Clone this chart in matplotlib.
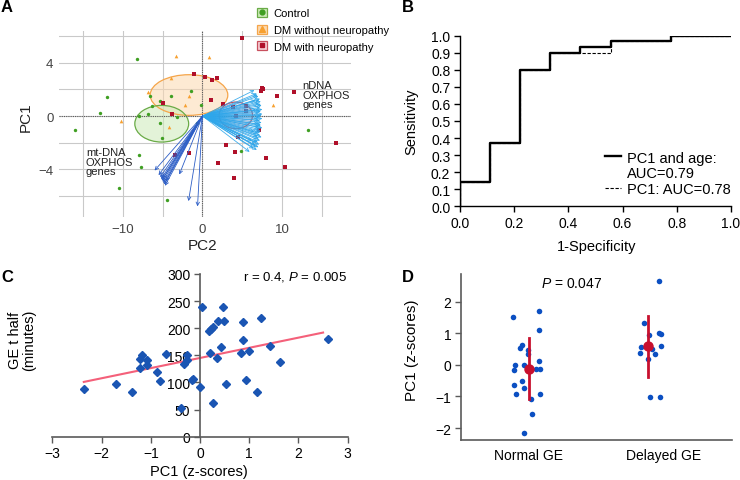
import numpy as np
import matplotlib.pyplot as plt
from matplotlib.patches import Ellipse, Patch
from matplotlib.lines import Line2D

plt.rcParams['font.family'] = ['Liberation Sans', 'DejaVu Sans']
plt.rcParams['mathtext.fontset'] = 'custom'
plt.rcParams['mathtext.rm'] = 'Liberation Sans'
plt.rcParams['mathtext.it'] = 'Liberation Sans:italic'

W, H = 740, 481

# ---- panel A data (PCA biplot) ----
ctrl_x = [-8.22, -11.98, -12.8, -15.98, -6.53, -6.36, -5.29, -3.93, -1.49, -0.16, -7.97,
          -6.78, -5.29, -3.22, -5.08, -0.66, -7.89, -7.72, -10.4, -4.46, 4.8, 13.2]
ctrl_y = [4.31, 1.40, 0.23, -1.05, 1.48, 0.73, 1.13, 1.48, 1.88, 0.83, 0.03,
          0.18, -0.55, -0.05, -1.68, -0.5, -2.93, -3.81, -5.39, -6.29, -2.63, -1.03]
dm_no_x = [-3.3, -6.78, -3.88, -1.73, -2.23, -10.25, -4.13, 0.87, 8.8]
dm_no_y = [4.49, 1.80, 2.83, 1.48, 0.83, -0.40, -0.83, 4.41, 0.83]
dm_neu_x = [-1.12, -5.0, -3.76, -1.69, -3.39, 4.92, 0.37, 1.2, 1.82, 1.12, 2.56, 7.4, 7.6, 7.31,
            9.29, 11.4, 3.8, 5.5, 4.2, 5.4, 7.1, 4.5, 2.93, 4.09, 1.94, 7.93, 10.29, 3.92, 16.65]
dm_neu_y = [3.16, 0.98, 0.13, -2.78, -2.91, 5.84, 2.91, 2.71, 2.83, 1.18, 0.9, 2.13, 2.0, 1.88,
            1.53, 1.78, 0.7, 0.75, 0.0, 0.4, -1.05, -1.55, -2.2, -2.73, -3.51, -3.16, -3.83, -4.69, -2.03]

# ellipses: centre x, centre y, radius x, radius y
ell_ctrl = [-5.1, -0.58, 3.37, 1.38]
ell_no = [-1.69, 1.58, 4.86, 1.53]
ell_neu = [4.17, 0.05, 2.1, 1.0]

# loading arrow tips
ndna_x = [6.5, 6.8, 7.0, 7.2, 7.3, 7.0, 7.4, 7.2, 7.5, 7.3, 7.0, 7.5, 7.3, 7.1, 7.5, 7.2, 7.4, 7.0, 7.3,
          7.5, 7.1, 7.3, 6.9, 7.2, 7.4, 7.0, 7.2, 6.8, 7.1, 6.6, 7.0, 6.4, 6.8, 5.9, 6.2, 6.5, 6.7, 6.6,
          6.9, 7.1, 7.3, 7.2, 7.4, 7.0, 7.3, 7.1, 6.9, 7.2, 6.7, 6.9]
ndna_y = [1.95, 1.7, 1.5, 1.3, 1.1, 0.95, 0.8, 0.65, 0.5, 0.35, 0.25, 0.15, 0.0, -0.1, -0.2, -0.35, -0.5,
          -0.6, -0.75, -0.9, -1.0, -1.15, -1.3, -1.45, -1.6, -1.7, -1.85, -2.0, -2.15, -2.2, -2.35, -2.45,
          -2.55, -2.7, -1.9, -1.2, 0.5, 1.2, 1.6, 1.2, 0.9, 0.45, 0.05, -0.3, -0.65, -0.85, -1.55,
          -1.25, -2.3, -1.95]
mt_x = [-6.0, -5.5, -5.3, -5.2, -5.1, -5.0, -4.9, -4.8, -4.7, -4.95, -4.6, -2.9, -1.75, -0.62]
mt_y = [-4.1, -4.45, -4.6, -4.75, -4.85, -4.95, -5.05, -5.15, -5.25, -4.7, -4.9, -4.4, -6.4, -6.8]

# ---- panel B data (ROC) ----
fpr = [0, 0, 0.111, 0.222, 0.333, 0.444, 0.556, 0.778, 1.0]
tpr_age = [0, 0.14, 0.37, 0.80, 0.90, 0.935, 0.97, 1.0, 1.0]
tpr_pc1 = [0, 0.14, 0.37, 0.80, 0.90, 0.90, 0.97, 1.0, 1.0]

# ---- panel C data ----
pc1_z = [-2.36, -1.71, -1.39, -1.22, -1.18, -1.21, -1.08, -1.07, -0.87, -0.81, -0.69, -0.38, -0.26,
         -0.26, -0.32, -0.14, -0.16, 0.0, 0.05, 0.19, 0.22, 0.26, 0.2, 0.27, 0.35, 0.37, 0.43, 0.47,
         0.49, 0.52, 0.83, 0.88, 0.88, 0.93, 0.99, 1.15, 1.23, 1.42, 1.62, 2.59]
ge_half = [88, 98, 82, 126, 151, 143, 141, 133, 120, 103, 152, 53, 151, 142, 134, 106, 104, 92, 240,
           195, 198, 203, 155, 63, 145, 214, 165, 240, 213, 97, 155, 179, 211, 105, 158, 82, 219, 168,
           137, 181]
fit_x = [-2.36, 2.5]
fit_y = [101, 192]

# ---- panel D data ----
groups = ['Normal GE', 'Delayed GE']
normal_pc1 = [1.52, 1.71, 1.10, 0.55, 0.63, 0.46, 0.34, 0.13, 0.0, 0.0, -0.17, -0.13, -0.13, -0.65,
              -0.52, -0.73, -0.92, -0.92, -1.07, -1.54, -2.16]
normal_jit = [-0.116, 0.076, 0.076, -0.062, -0.05, -0.007, -0.002, 0.076, -0.10, -0.034, -0.108,
              0.052, 0.081, -0.108, -0.05, -0.034, -0.096, 0.084, 0.017, 0.022, -0.034]
delayed_pc1 = [2.65, 1.33, 0.95, 1.01, 0.98, 0.58, 0.61, 0.51, 0.37, 0.34, 0.19, -1.01, -1.01]
delayed_jit = [-0.04, -0.15, -0.11, -0.04, -0.02, -0.17, -0.02, -0.09, -0.18, -0.07, -0.12, -0.10, -0.03]
grp_mean = [-0.13, 0.59]
grp_lo = [-1.07, -0.37]
grp_hi = [0.84, 1.54]
grp_mean_jit = [0.0, -0.12]

fig = plt.figure(figsize=(W / 100, H / 100), dpi=100)

def fx(px):
    return px / W

def fy(py):
    return 1 - py / H

# ================= A =================
axA = fig.add_axes([fx(59), fy(218), (351 - 59) / W, (218 - 32) / H])
axA.set_xlim(-17.96, 18.59)
axA.set_ylim(-7.6, 6.4)
for s in axA.spines.values():
    s.set_visible(False)
axA.set_xticks([-10, 0, 10])
axA.set_yticks([-4, 0, 4])
axA.set_xticks([-15, -5, 5, 15], minor=True)
axA.set_yticks([-6, -2, 2, 6], minor=True)
axA.grid(which='both', color='#c9c9c9', lw=0.8)
axA.set_axisbelow(True)
axA.tick_params(which='both', length=0, labelsize=9.5, colors='#444444', pad=4)

for e, fc, ec in [(ell_no, '#fcd9b0', '#f5a54a'), (ell_ctrl, '#cdeab8', '#6aab47'),
                  (ell_neu, '#f6d0d6', '#c8505e')]:
    axA.add_patch(Ellipse((e[0], e[1]), 2 * e[2], 2 * e[3], facecolor=fc, alpha=0.55,
                          edgecolor='none', zorder=1))
    axA.add_patch(Ellipse((e[0], e[1]), 2 * e[2], 2 * e[3], facecolor='none',
                          edgecolor=ec, lw=0.9, zorder=1.5))

axA.axhline(0, color='#5a5a5a', lw=0.8, ls=(0, (1, 1)), zorder=1.6)
axA.axvline(0, color='#5a5a5a', lw=0.8, ls=(0, (1, 1)), zorder=1.6)

axA.scatter(ctrl_x, ctrl_y, s=6, marker='o', color='#3f9f22', zorder=2, linewidths=0)
axA.scatter(dm_no_x, dm_no_y, s=7, marker='^', color='#f7a030', zorder=2, linewidths=0)
axA.scatter(dm_neu_x, dm_neu_y, s=6, marker='s', color='#b0102a', zorder=2, linewidths=0)

for x, y in zip(ndna_x, ndna_y):
    axA.annotate('', xy=(x, y), xytext=(0, 0), zorder=3,
                 arrowprops=dict(arrowstyle='->', color='#2ea6ea', lw=0.6, alpha=0.9,
                                 shrinkA=0, shrinkB=0, mutation_scale=6))
for x, y in zip(mt_x, mt_y):
    axA.annotate('', xy=(x, y), xytext=(0, 0), zorder=3,
                 arrowprops=dict(arrowstyle='->', color='#2d5ec6', lw=0.6,
                                 shrinkA=0, shrinkB=0, mutation_scale=6))

axA.text(12.5, 2.7, 'nDNA\nOXPHOS\ngenes', fontsize=8, ha='left', va='top', linespacing=0.95,
         color='#222222')
axA.text(-14.6, -2.35, 'mt-DNA\nOXPHOS\ngenes', fontsize=8, ha='left', va='top', linespacing=0.95,
         color='#222222')

fig.text(fx(26), fy(117), 'PC1', rotation=90, ha='center', va='center', fontsize=11, color='#222222')
fig.text(fx(203), fy(246), 'PC2', ha='center', va='center', fontsize=11, color='#222222')

hA = [(Patch(facecolor='#cdeab8', edgecolor='#6aab47', lw=0.9),
       Line2D([], [], marker='o', color='#3f9f22', ls='none', markersize=3.5)),
      (Patch(facecolor='#fcd9b0', edgecolor='#f5a54a', lw=0.9),
       Line2D([], [], marker='^', color='#f7a030', ls='none', markersize=4)),
      (Patch(facecolor='#f6d0d6', edgecolor='#c8505e', lw=0.9),
       Line2D([], [], marker='s', color='#b0102a', ls='none', markersize=3.5))]
fig.legend(hA, ['Control', 'DM without neuropathy', 'DM with neuropathy'],
           loc='upper left', bbox_to_anchor=(fx(257), fy(9)), frameon=False, fontsize=8,
           handlelength=0.9, handleheight=0.9, handletextpad=0.6, labelspacing=0.55,
           borderpad=0, borderaxespad=0)

# ================= B =================
axB = fig.add_axes([fx(460), fy(207.3), (731 - 460) / W, (207.3 - 36.7) / H])
axB.step(fpr, tpr_pc1, where='post', color='black', lw=0.8, ls=(0, (3, 1.5)))
axB.step(fpr, tpr_age, where='post', color='black', lw=1.7)
axB.set_xlim(0, 1)
axB.set_ylim(0, 1)
axB.set_xticks(np.arange(0, 1.01, 0.2))
axB.set_yticks(np.arange(0, 1.01, 0.1))
axB.xaxis.set_major_formatter(plt.FormatStrFormatter('%.1f'))
axB.yaxis.set_major_formatter(plt.FormatStrFormatter('%.1f'))
for s in ['top', 'right']:
    axB.spines[s].set_visible(False)
for s in ['left', 'bottom']:
    axB.spines[s].set_linewidth(1.0)
axB.tick_params(labelsize=10, length=4, width=1, pad=3)
hB = [Line2D([], [], color='black', lw=1.7), Line2D([], [], color='none'),
      Line2D([], [], color='black', lw=0.8, ls=(0, (3, 1.5)))]
axB.legend(hB, ['PC1 and age:', 'AUC=0.79', 'PC1: AUC=0.78'], loc='lower right',
           bbox_to_anchor=(1.0, 0.06), frameon=False, fontsize=10.5, handlelength=1.1,
           handletextpad=0.4, labelspacing=0.12, borderpad=0, borderaxespad=0)
fig.text(fx(411.7), fy(121.7), 'Sensitivity', rotation=90, ha='center', va='center', fontsize=10.5)
fig.text(fx(596.7), fy(247), '1-Specificity', ha='center', va='center', fontsize=10.5)

# ================= C =================
axC = fig.add_axes([fx(52.3), fy(437.7), (347.7 - 52.3) / W, (437.7 - 275) / H])
axC.plot(fit_x, fit_y, color='#f4607a', lw=1.5, zorder=2)
axC.plot(pc1_z, ge_half, ls='none', marker='D', markersize=4.0, color='#1a55b3', zorder=3)
axC.set_xlim(-3, 3)
axC.set_ylim(0, 300)
axC.set_xticks(range(-3, 4))
axC.set_yticks(range(0, 301, 50))
axC.spines['left'].set_position(('data', 0))
for s in ['top', 'right']:
    axC.spines[s].set_visible(False)
for s in ['left', 'bottom']:
    axC.spines[s].set_color('#5a5a5a')
    axC.spines[s].set_linewidth(1.2)
axC.tick_params(labelsize=10, length=4, width=1.0, color='#5a5a5a', pad=3)
axC.text(2.98, 296, r'r = 0.4, $\it{P}$ = 0.005', ha='right', va='center', fontsize=9.5)
fig.text(fx(22), fy(340), 'GE t half\n(minutes)', rotation=90, ha='center', va='center',
         fontsize=10.5, linespacing=1.0)
fig.text(fx(199), fy(471.7), 'PC1 (z-scores)', ha='center', va='center', fontsize=10.5)

# ================= D =================
axD = fig.add_axes([fx(461), fy(440.7), (731.7 - 461) / W, (440.7 - 275) / H])
axD.scatter(1 + np.array(normal_jit), normal_pc1, s=16, color='#0b4fc2', linewidths=0, zorder=2)
axD.scatter(2 + np.array(delayed_jit), delayed_pc1, s=16, color='#0b4fc2', linewidths=0, zorder=2)
for i in range(len(groups)):
    xm = i + 1 + grp_mean_jit[i]
    axD.plot([xm, xm], [grp_lo[i], grp_hi[i]], color='#c8102e', lw=2, zorder=3)
    axD.plot([xm], [grp_mean[i]], marker='o', markersize=6.5, color='#c8102e', zorder=4)
axD.set_xlim(0.5, 2.5)
axD.set_ylim(-2.37, 2.88)
axD.set_xticks([1, 2])
axD.set_xticklabels(groups)
axD.set_yticks(range(-2, 3))
for s in ['top', 'right']:
    axD.spines[s].set_visible(False)
for s in ['left', 'bottom']:
    axD.spines[s].set_color('#5a5a5a')
    axD.spines[s].set_linewidth(1.2)
axD.tick_params(axis='y', labelsize=10, length=4, width=1.0, color='#5a5a5a', pad=3)
axD.tick_params(axis='x', labelsize=10, length=0, pad=6)
axD.text(1.315, 2.59, r'$\it{P}$ = 0.047', ha='center', va='center', fontsize=10)
fig.text(fx(411.7), fy(350.7), 'PC1 (z-scores)', rotation=90, ha='center', va='center',
         fontsize=11)

# panel letters
for lab, px, py in [('A', 1, 7), ('B', 402, 7), ('C', 1, 278), ('D', 402, 278)]:
    fig.text(fx(px), fy(py), lab, ha='left', va='center', fontsize=12, fontweight='bold')

fig.savefig('out.png', dpi=100)
